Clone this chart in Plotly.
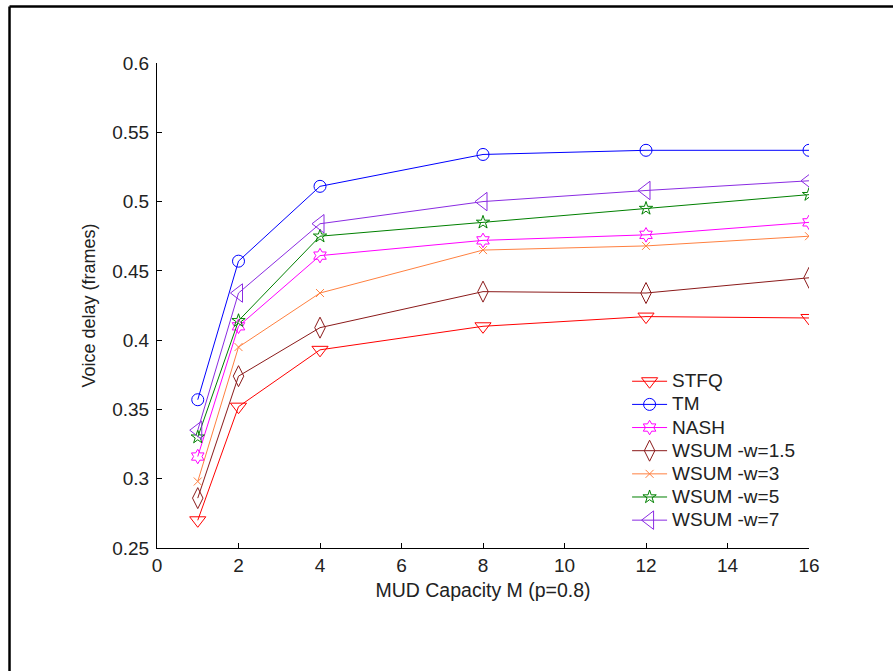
import plotly.graph_objects as go

# MUD capacity values on the x axis
capacity = [1, 2, 4, 8, 12, 16]

# Mean voice delay (frames) for each scheduling policy
stfq = [0.270, 0.352, 0.393, 0.410, 0.417, 0.416]
tm = [0.357, 0.457, 0.511, 0.534, 0.537, 0.537]
nash = [0.316, 0.410, 0.461, 0.472, 0.476, 0.485]
wsum_15 = [0.286, 0.374, 0.409, 0.435, 0.434, 0.445]
wsum_3 = [0.298, 0.395, 0.434, 0.465, 0.468, 0.475]
wsum_5 = [0.330, 0.414, 0.475, 0.485, 0.495, 0.505]
wsum_7 = [0.335, 0.434, 0.484, 0.500, 0.508, 0.515]

series_names = ["STFQ", "TM", "NASH", "WSUM -w=1.5", "WSUM -w=3", "WSUM -w=5", "WSUM -w=7"]
series_values = [stfq, tm, nash, wsum_15, wsum_3, wsum_5, wsum_7]

x_ticks = [0, 2, 4, 6, 8, 10, 12, 14, 16]
y_ticks = [0.25, 0.3, 0.35, 0.4, 0.45, 0.5, 0.55, 0.6]
y_tick_text = ["0.25", "0.3", "0.35", "0.4", "0.45", "0.5", "0.55", "0.6"]

styles = [
    dict(color="#FF0000", symbol="triangle-down-open", size=14),
    dict(color="#0000FF", symbol="circle-open", size=12),
    dict(color="#FF00FF", symbol="hexagram-open", size=11),
    dict(color="#8B1A1A", symbol="diamond-tall-open", size=15),
    dict(color="#FF8040", symbol="x-thin-open", size=8),
    dict(color="#008000", symbol="star-open", size=10),
    dict(color="#8A2BE2", symbol="triangle-left-open", size=16),
]

font_family = "Liberation Sans, Arial, sans-serif"
text_color = "#222222"

fig = go.Figure()
for i, (name, vals, st) in enumerate(zip(series_names, series_values, styles)):
    fig.add_trace(go.Scatter(
        x=capacity, y=vals,
        # legend rows stay compact while the entry text is drawn larger
        name=f'<span style="font-size:19px">{name}</span>',
        mode="lines+markers",
        legendgroup=f"g{i}",
        line=dict(color=st["color"], width=1),
        marker=dict(symbol=st["symbol"], size=st["size"], color=st["color"],
                    line=dict(color=st["color"], width=1)),
    ))

fig.update_layout(
    width=893, height=671,
    margin=dict(l=157, r=84, t=63, b=123),
    paper_bgcolor="white", plot_bgcolor="white",
    font=dict(family=font_family, size=19, color=text_color),
    showlegend=True,
    legend=dict(
        x=0.721, y=0.378, xanchor="left", yanchor="top",
        bgcolor="rgba(0,0,0,0)", borderwidth=0,
        font=dict(family=font_family, size=15.5, color=text_color),
        tracegroupgap=0, itemwidth=35,
    ),
    xaxis=dict(
        range=[0, 16], tickvals=x_ticks, ticks="inside", ticklen=5,
        showline=True, linecolor="black", linewidth=1, mirror=False,
        showgrid=False, zeroline=False, tickcolor="black",
        tickfont=dict(size=19),
        title=dict(text="MUD Capacity M (p=0.8)", standoff=8,
                   font=dict(family=font_family, size=19.5, color=text_color)),
    ),
    yaxis=dict(
        range=[0.25, 0.6], tickvals=y_ticks, ticktext=y_tick_text,
        ticks="inside", ticklen=5, ticklabelstandoff=3,
        showline=True, linecolor="black", linewidth=1, mirror=False,
        showgrid=False, zeroline=False, tickcolor="black",
        tickfont=dict(size=19),
        title=dict(text="Voice delay (frames)", standoff=11,
                   font=dict(family=font_family, size=18, color=text_color)),
    ),
)

# Figure frame along the top and left edges
fig.add_shape(type="line", xref="paper", yref="paper",
              x0=-0.2262, y0=1.1165, x1=1.3, y1=1.1165,
              line=dict(color="black", width=2.5))
fig.add_shape(type="line", xref="paper", yref="paper",
              x0=-0.2262, y0=1.1165, x1=-0.2262, y1=-0.4,
              line=dict(color="black", width=2.5))

fig.write_html("out.html")
